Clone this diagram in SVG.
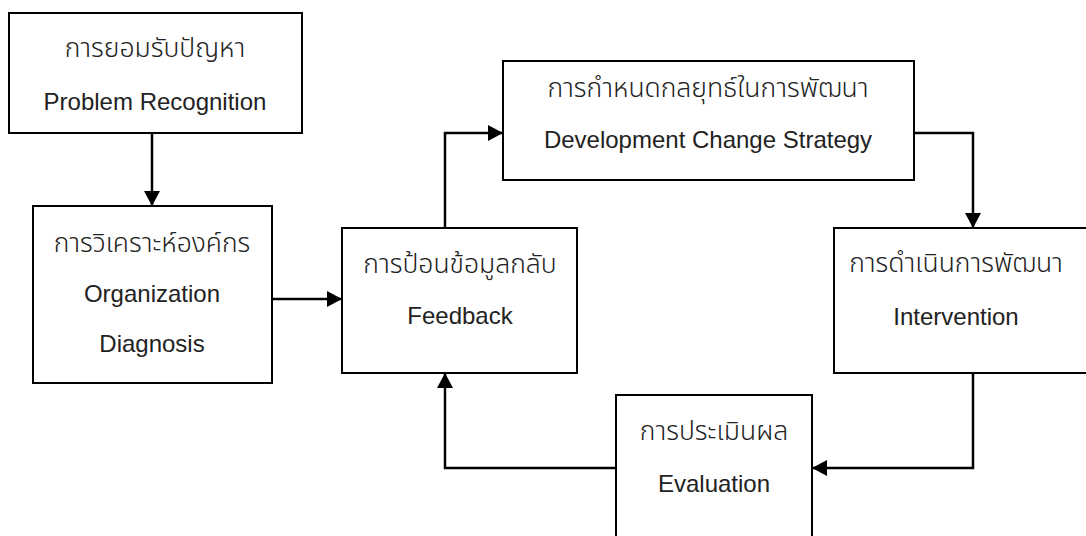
<svg xmlns="http://www.w3.org/2000/svg" width="1086" height="536" viewBox="0 0 1086 536">
<style>
.box{fill:#fff;stroke:#000;stroke-width:2}
.t{font-family:"Liberation Sans","Noto Sans Thai","Noto Sans Thai Looped","Garuda","Loma","Norasi","DejaVu Sans",sans-serif;font-size:24px;fill:#222;text-anchor:middle}
.th{font-size:26.5px;font-weight:300}
.c{fill:none;stroke:#000;stroke-width:2.5}
</style>
<defs>
<marker id="ah" markerUnits="userSpaceOnUse" markerWidth="18" markerHeight="18" refX="15" refY="8" orient="auto">
<path d="M0,0 L15,8 L0,16 z" fill="#000"/>
</marker>
</defs>
<g id="connectors">
<path class="c" d="M152,133 L152,206" marker-end="url(#ah)"/>
<path class="c" d="M272,299 L342,299" marker-end="url(#ah)"/>
<path class="c" d="M445,228 L445,133 L503,133" marker-end="url(#ah)"/>
<path class="c" d="M914,133 L973,133 L973,228" marker-end="url(#ah)"/>
<path class="c" d="M973,373 L973,468 L812,468" marker-end="url(#ah)"/>
<path class="c" d="M616,468 L445,468 L445,373" marker-end="url(#ah)"/>
</g>
<g id="n1">
<rect class="box" x="9" y="13" width="293" height="120"/>
<text class="t th" x="155" y="57">การยอมรับปัญหา</text>
<text class="t" x="155" y="110">Problem Recognition</text>
</g>
<g id="n2">
<rect class="box" x="33" y="206" width="239" height="177"/>
<text class="t th" x="152" y="252">การวิเคราะห์องค์กร</text>
<text class="t" x="152" y="302">Organization</text>
<text class="t" x="152" y="352">Diagnosis</text>
</g>
<g id="n3">
<rect class="box" x="342" y="228" width="235" height="145"/>
<text class="t th" x="460" y="273">การป้อนข้อมูลกลับ</text>
<text class="t" x="460" y="324">Feedback</text>
</g>
<g id="n4">
<rect class="box" x="503" y="61" width="411" height="119"/>
<text class="t th" x="708" y="97">การกำหนดกลยุทธ์ในการพัฒนา</text>
<text class="t" x="708" y="148">Development Change Strategy</text>
</g>
<g id="n5">
<rect class="box" x="834" y="228" width="260" height="145"/>
<text class="t th" x="956" y="272">การดำเนินการพัฒนา</text>
<text class="t" x="956" y="325">Intervention</text>
</g>
<g id="n6">
<rect class="box" x="616" y="395" width="196" height="150"/>
<text class="t th" x="714" y="440">การประเมินผล</text>
<text class="t" x="714" y="492">Evaluation</text>
</g>
</svg>
